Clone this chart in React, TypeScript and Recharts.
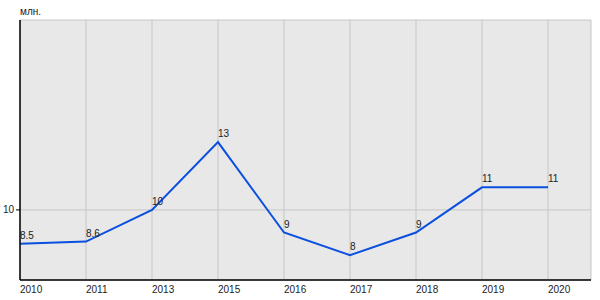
import { LineChart, Line, XAxis, YAxis, CartesianGrid, LabelList } from "recharts";

const years = ["2010", "2011", "2013", "2015", "2016", "2017", "2018", "2019", "2020"];
const values = [8.5, 8.6, 10, 13, 9, 8, 9, 11, 11];
const yTicks = [10];

const data = years.map((year, i) => ({ year, value: values[i] }));

const font = "'Liberation Sans', Arial, sans-serif";

function ValueLabel(props: any) {
  const { x, y, value } = props;
  return (
    <text x={x} y={y - 5} fontSize={10} fill="#222" fontFamily={font} textAnchor="start">
      {value}
    </text>
  );
}

function XTick(props: any) {
  const { x, payload } = props;
  // fixed baseline just under the x axis line
  return (
    <text x={x} y={293} fontSize={10} fill="#222" fontFamily={font} textAnchor="start">
      {payload.value}
    </text>
  );
}

export default function App() {
  return (
    <div style={{ position: "absolute", left: 0, top: 0, width: 600, height: 300, background: "#fff" }}>
      <LineChart
        width={600}
        height={300}
        data={data}
        margin={{ top: 20, right: 9, left: 0, bottom: 0 }}
      >
        <CartesianGrid fill="#e8e8e8" stroke="#c6c6c6" strokeWidth={1} />
        <XAxis
          dataKey="year"
          padding={{ left: 0, right: 43 }}
          height={20}
          axisLine={{ stroke: "#000", strokeWidth: 1.5 }}
          tickLine={false}
          tick={<XTick />}
          interval={0}
        />
        <YAxis
          domain={[6.9, 18.4]}
          ticks={yTicks}
          width={20}
          axisLine={{ stroke: "#000", strokeWidth: 1.5 }}
          tickLine={{ stroke: "#000" }}
          tickSize={4}
          tick={{ fontSize: 10, fill: "#222", fontFamily: font }}
        />
        <Line
          type="linear"
          dataKey="value"
          stroke="#0a4fe0"
          strokeWidth={2}
          dot={false}
          isAnimationActive={false}
        >
          <LabelList dataKey="value" content={<ValueLabel />} />
        </Line>
        <text x={20} y={15} fontSize={10} fill="#222" fontFamily={font}>
          млн.
        </text>
      </LineChart>
    </div>
  );
}
